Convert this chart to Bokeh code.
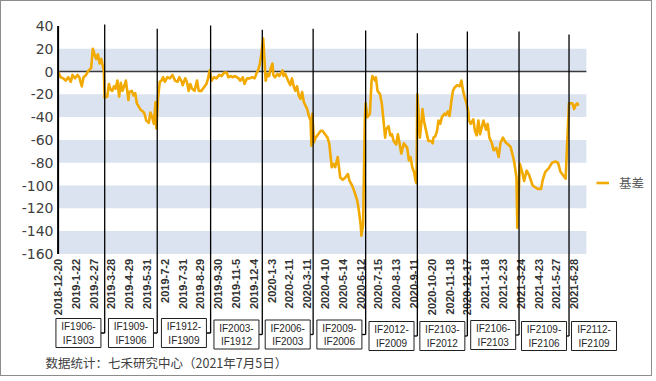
import math
from bokeh.plotting import figure
from bokeh.models import Range1d, FixedTicker, Label, Legend, LegendItem
from bokeh.core.properties import value
from bokeh.embed import file_html
from bokeh.resources import INLINE

# ---------------- data ----------------
# trading-day number (0 = 2018-12-20) and IF basis (index points)
basis_day = [0, 3, 6, 9, 12, 15, 17, 20, 23, 25, 28, 30, 33, 36, 39, 41, 43, 45, 47, 49,
             51, 53, 54, 55, 58, 60, 62, 64, 66, 68, 70, 72, 74, 76, 78, 80, 83, 84, 87, 89,
             91, 93, 96, 98, 100, 102, 104, 107, 109, 111, 113, 115, 116, 118, 120, 122, 124, 126, 129, 132,
             135, 138, 141, 143, 146, 147, 150, 152, 154, 156, 158, 161, 164, 166, 169, 172, 175, 177, 179, 181,
             184, 187, 190, 193, 196, 199, 201, 204, 206, 209, 213, 215, 218, 220, 223, 226, 229, 232, 234, 236,
             238, 240, 242, 243, 245, 247, 249, 251, 253, 254, 256, 259, 261, 265, 266, 268, 272, 274, 276, 278,
             280, 282, 284, 286, 288, 290, 292, 294, 296, 298, 299, 300, 302, 304, 307, 310, 312, 315, 318, 320,
             323, 325, 327, 330, 333, 336, 339, 342, 344, 347, 350, 353, 355, 357, 358, 360, 362, 363, 365, 368,
             370, 371, 374, 375, 377, 380, 382, 383, 386, 387, 390, 392, 394, 396, 399, 401, 403, 405, 408, 410,
             412, 414, 416, 418, 420, 422, 423, 424, 427, 429, 430, 432, 434, 437, 440, 442, 443, 445, 447, 449,
             451, 453, 456, 458, 460, 462, 464, 466, 468, 471, 474, 476, 478, 480, 482, 484, 485, 487, 490, 492,
             494, 496, 498, 501, 502, 505, 507, 509, 512, 514, 517, 520, 522, 525, 528, 534, 538, 541, 542, 545,
             548, 550, 553, 556, 560, 566, 570, 572, 575, 579, 583, 587, 590, 593, 596, 599, 601, 603, 607, 609,
             611, 613, 614]
basis_value = [0, -5, -6, -8, -5, -9, -3, -6, -3, -5, -13, -5, -3, 1, 3, 20, 15, 11, 15, 7,
               11, 4, 0, -23, -22, -11, -16, -17, -13, -15, -8, -22, -10, -17, -13, -8, -25, -18, -17, -21,
               -19, -28, -32, -34, -35, -37, -43, -45, -36, -40, -46, -27, -50, -23, -9, -8, -5, -9, -5, -6,
               -3, -8, -9, -5, -9, -12, -6, -9, -17, -11, -15, -17, -8, -17, -17, -14, -11, -6, 1, -8,
               -5, -6, -3, -4, -1, -1, -5, -4, -5, -4, -6, -8, -5, -11, -6, -6, -5, -6, -2, 1,
               6, 16, 29, 17, -8, -2, -4, 3, 7, -3, -5, -2, -4, 1, -4, -2, -9, -12, -6, -13,
               -17, -13, -21, -24, -18, -27, -30, -33, -39, -43, -65, -37, -62, -58, -55, -52, -52, -55, -58, -63,
               -84, -81, -84, -75, -93, -95, -93, -90, -96, -100, -106, -113, -122, -134, -144, -134, -43, -28, -40, -37,
               -8, -4, -8, -5, -17, -20, -28, -35, -58, -51, -48, -56, -55, -61, -64, -55, -63, -72, -63, -65,
               -67, -78, -75, -84, -88, -96, -98, -20, -58, -43, -33, -44, -51, -61, -61, -63, -58, -57, -53, -43,
               -46, -40, -37, -38, -35, -39, -27, -17, -14, -12, -13, -8, -17, -23, -28, -35, -43, -46, -42, -52,
               -56, -43, -55, -46, -43, -51, -46, -58, -63, -69, -67, -75, -63, -58, -62, -66, -78, -93, -137, -81,
               -89, -96, -87, -91, -100, -103, -103, -95, -88, -85, -80, -79, -80, -88, -91, -94, -60, -28, -28, -33,
               -29, -28, -30]

tick_dates = ["2018-12-20", "2019-1-22", "2019-2-27", "2019-3-28", "2019-4-29", "2019-5-31",
              "2019-7-2", "2019-7-31", "2019-8-29", "2019-9-30", "2019-11-5", "2019-12-4",
              "2020-1-3", "2020-2-11", "2020-3-11", "2020-4-10", "2020-5-14", "2020-6-12",
              "2020-7-15", "2020-8-13", "2020-9-11", "2020-10-20", "2020-11-18", "2020-12-17",
              "2021-1-18", "2021-2-23", "2021-3-24", "2021-4-23", "2021-5-27", "2021-6-28"]
label_every = 21          # one date label every 21 trading days
axis_days = 623.5         # category axis length (trading days)

# contract switch days (trading-day number) and height of the marker line
roll_day = [55, 117, 180, 241, 301, 363, 424, 483, 544, 603]
roll_top = [41.2, 37.5, 40.4, 36.6, 37.5, 36.0, 33.6, 35.1, 35.1, 32.5]
spread_top = ["IF1906-", "IF1909-", "IF1912-", "IF2003-", "IF2006-", "IF2009-",
              "IF2012-", "IF2103-", "IF2106-", "IF2109-", "IF2112-"]
spread_bottom = ["IF1903", "IF1906", "IF1909", "IF1912", "IF2003", "IF2006",
                 "IF2009", "IF2012", "IF2103", "IF2106", "IF2109"]

y_ticks = [-160, -140, -120, -100, -80, -60, -40, -20, 0, 20, 40]
band_bottom = [0, -40, -80, -120, -160]
band_top = [20, -20, -60, -100, -140]

series_name = "基差"
source_note = "数据统计：七禾研究中心（2021年7月5日）"

# ---------------- layout ----------------
W, H = 652, 376
LEFT, TOP = 43, 17
FRAME_W, FRAME_H = W - LEFT, H - TOP
PX_PER_DAY = 0.8473
PX_PER_UNIT = 1.14
x_start = -13.6 / PX_PER_DAY
x_end = x_start + FRAME_W / PX_PER_DAY
y_top = 40 + 7.4 / PX_PER_UNIT
y_bottom = y_top - FRAME_H / PX_PER_UNIT

p = figure(width=W, height=H, x_range=Range1d(x_start, x_end), y_range=Range1d(y_bottom, y_top),
           x_axis_type=None, output_backend="svg", toolbar_location=None,
           min_border_left=LEFT, min_border_right=0, min_border_top=TOP, min_border_bottom=0)
p.outline_line_color = None
p.grid.visible = False
p.background_fill_color = "white"
p.border_fill_color = "white"
p.styles = {"border": "1px solid #8c8c8c"}

ax = p.yaxis[0]
ax.ticker = FixedTicker(ticks=y_ticks)
ax.major_label_overrides = {t: str(t) for t in y_ticks}
ax.axis_line_color = None
ax.major_tick_line_color = None
ax.minor_tick_line_color = None
ax.major_tick_out = 0
ax.major_tick_in = 0
ax.major_label_standoff = -9
ax.major_label_text_font = "DejaVu Sans"
ax.major_label_text_font_size = "14px"
ax.major_label_text_color = "#404040"

# bands
p.quad(left=0, right=axis_days, bottom=band_bottom, top=band_top,
       fill_color="#dae3ef", line_color=None)
# zero line
p.segment(x0=0, y0=0, x1=axis_days, y1=0, line_color="#3a3a3a", line_width=1.5)

# basis line
r = p.line(basis_day, basis_value, line_color="#f2a900", line_width=2.6, line_join="round")

# box geometry
prev_roll = roll_day[0] - (roll_day[1] - roll_day[0])
next_roll = roll_day[-1] + (roll_day[-1] - roll_day[-2])
edges = [prev_roll] + roll_day + [next_roll]
box_day = [(edges[i] + edges[i + 1]) / 2 for i in range(len(edges) - 1)]
box_px = [332.5, 332.5, 332.5, 334, 334, 334, 335.5, 335.5, 334.5, 335.5, 335.5]
box_y = [(71 - v) / PX_PER_UNIT for v in box_px]

# date labels
tick_days = [i * label_every for i in range(len(tick_dates))]
p.text(x=tick_days, y=[-160] * len(tick_days), text=tick_dates, angle=math.pi / 2,
       text_align="right", text_baseline="middle", y_offset=5,
       text_font=value("Liberation Sans"), text_font_style="bold",
       text_font_size="11px", text_color="#333333")

# roll marker lines with stubs to the boxes
roll_bottom = box_y[:len(roll_day)]
p.segment(x0=roll_day, y0=roll_top, x1=roll_day, y1=roll_bottom, line_color="black", line_width=1.3)
p.segment(x0=[d - 8 for d in roll_day], y0=roll_bottom, x1=roll_day, y1=roll_bottom,
          line_color="black", line_width=1.3)
# y axis line
p.segment(x0=0, y0=y_ticks[0], x1=0, y1=y_ticks[-1], line_color="black", line_width=2)

# spread boxes
p.rect(x=box_day, y=box_y, width=45, height=29, width_units="screen", height_units="screen",
       fill_color="white", line_color="#202020", line_width=1)
p.text(x=box_day, y=box_y, text=spread_top, y_offset=-6.5, text_align="center", text_baseline="middle",
       text_font=value("Liberation Sans"), text_font_size="10px", text_color="#262626")
p.text(x=box_day, y=box_y, text=spread_bottom, y_offset=7, text_align="center", text_baseline="middle",
       text_font=value("Liberation Sans"), text_font_size="10px", text_color="#262626")

legend = Legend(items=[LegendItem(label=series_name, renderers=[r])], location=(552, 185),
                glyph_width=13, glyph_height=15, label_standoff=10, padding=0, margin=0, spacing=0,
                border_line_color=None, background_fill_alpha=0,
                label_text_font="Noto Sans CJK SC", label_text_font_size="12.5px",
                label_text_color="#595959")
p.add_layout(legend)

note = Label(x=1, y=15.5, x_units="screen", y_units="screen", text=source_note,
             text_font="Noto Sans CJK SC", text_font_size="12.5px", text_color="#404040",
             text_baseline="middle")
p.add_layout(note)

open("out.html", "w", encoding="utf-8").write(file_html(p, INLINE, title="basis"))
